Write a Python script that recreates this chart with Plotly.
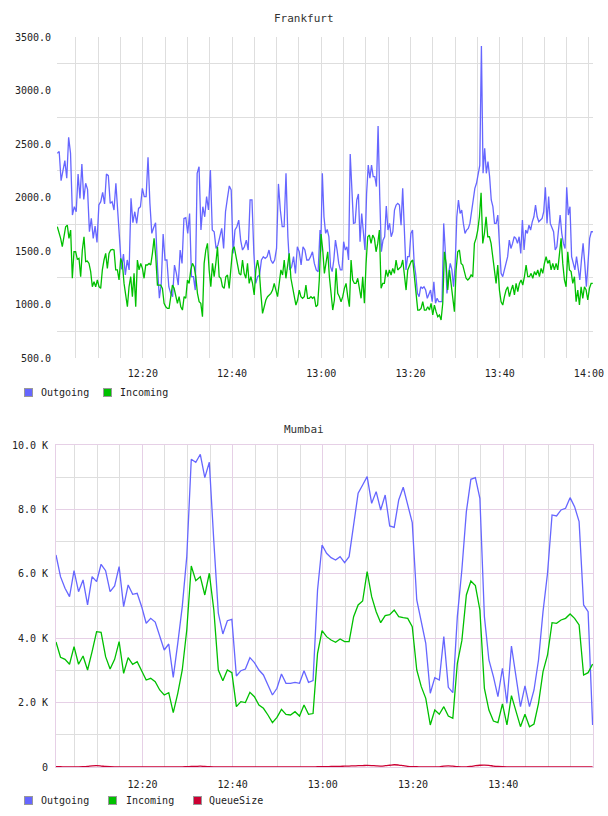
import pandas as pd
import plotly.graph_objects as go

DAY = "2024-01-01 "

# ---------------- Frankfurt ----------------
fr_out_a = [2413, 2430, 2157, 2241, 2344, 2180, 2563, 2413, 1836, 1914, 1867, 2220, 1992, 2313, 1982, 2133, 2077,
            1680, 1805, 1618, 1733, 1580, 1930, 1961, 2049, 1940, 2220, 2204, 1945, 1961, 1883, 2133, 1883, 1571,
            1329, 1472, 1276, 1416, 1323, 1992, 1764, 1867, 1758, 1898, 1914, 2086, 2008, 2008, 2376, 1945, 1665,
            1720, 1764, 1353, 1058, 1197, 1658, 1416, 1416, 1166, 1104, 1073, 1369, 1291, 1182, 1509, 1384, 1805,
            1811, 1665, 1851, 1260, 1260, 1135, 2226, 2288, 1696, 1914, 1820, 2008, 1883, 2257, 1696, 1680, 1524,
            1556, 1633, 1711, 1524, 1867, 1992, 2108, 2071, 1478, 1696, 1727, 1789, 1602, 1509, 1540, 1602, 1509,
            1977, 1977, 1478, 1197, 1260, 1276, 1416, 1447, 1431, 1447, 1509, 1416, 1384, 1416, 1524, 2127, 1883,
            1727, 1727, 2226, 1633, 1323, 1353, 1447, 1291, 1540, 1493, 1369, 1540, 1509, 1416, 1416, 1447, 1493,
            1384, 1323, 1307, 1696]
fr_out_b = [1493, 2226, 1820, 1665, 1702, 1633, 1353, 1307, 1416, 1602, 1509, 1384, 1323, 1323, 1587, 1509, 1540,
            1416, 2407, 2102, 1758, 1764, 1977, 2033, 1587, 1851, 1696, 1509, 2039, 2304, 2180, 2304, 2195, 2195,
            2102, 2668, 2008, 1493, 1602, 1633, 1920, 1696, 1758, 1633, 1680, 1883, 1930, 1945, 1930, 1742, 2086,
            1696, 1323, 1447, 1447, 1665, 1696, 1384, 1276, 1104, 1073, 1166, 1151, 1166, 1135, 1058, 1104, 1135,
            1026, 1213, 1011, 1058, 1026, 1026, 1026, 1758, 1493, 1104, 1291, 1384, 1323, 1166, 1369, 1820, 1977,
            1851, 1883, 1758, 1665, 1696, 1711, 1758, 1867, 1977, 2086, 2133, 2226, 2300, 3416, 2226, 2459, 2226,
            2335, 2195, 1977, 1914, 1758, 1758, 1836, 1602, 1291, 1260, 1323, 1384, 1447, 1602, 1524, 1571, 1633,
            1618, 1571, 1633, 1478, 1789, 1509, 1696, 1665, 1742, 1696, 1773, 1820, 1930, 1820, 1773, 1789, 1805,
            1867, 2096, 1758, 2008, 1758, 1711, 1680, 1509, 1540, 1696, 1836, 1665, 1571, 1524, 2096, 1836, 1914,
            1447, 1384, 1323, 1447, 1323, 1229, 1416, 1571, 1384, 1166, 1384, 1618, 1680, 1680]
fr_in_a = [1727, 1680, 1618, 1540, 1633, 1727, 1742, 1618, 1696, 1245, 1493, 1493, 1422, 1431, 1260, 1509, 1633,
           1400, 1406, 1384, 1307, 1166, 1213, 1166, 1229, 1166, 1151, 1323, 1416, 1478, 1338, 1478, 1509, 1515,
           1509, 1323, 1323, 1229, 1431, 1384, 1197, 1073, 979, 1166, 1260, 1073, 1291, 979, 1416, 1323, 1384,
           1338, 1245, 1369, 1369, 1384, 1369, 1478, 1618, 1447, 1182, 1182, 1182, 1151, 1011, 979, 964, 964,
           1073, 1182, 1151, 1073, 1011, 1073, 979, 948, 1073, 1058, 1229, 1197, 1323, 1384, 1353, 1260, 1104,
           1026, 1011, 886, 1384, 1509, 1571, 1323, 1166, 1384, 1260, 1384, 1540, 1260, 1245, 1166, 1151, 1260,
           1276, 1151, 1353, 1509, 1540, 1447, 1384, 1291, 1276, 1416, 1291, 1245, 1384, 1197, 1260, 1197, 1089,
           1323, 1416, 1323, 1104, 917, 979, 1042, 1073, 1089, 1104, 1135, 1197, 1135, 1073, 1197, 1323, 1276,
           1416, 1245, 1384, 1478, 1245, 1166, 1073, 995, 1042, 1135, 1073, 1058, 1073, 1182, 1058, 1058, 1073,
           1058, 1073, 979, 995, 1229]
fr_in_b = [1659, 1509, 1291, 1384, 1493, 1260, 1104, 948, 1042, 1338, 1104, 1073, 1026, 1073, 1151, 1197, 1073,
           979, 1416, 1229, 1197, 1197, 1245, 1166, 1058, 1260, 1011, 1384, 1633, 1649, 1571, 1649, 1618, 1493,
           1571, 1696, 1151, 1197, 1197, 1323, 1260, 1323, 1276, 1338, 1291, 1416, 1323, 1338, 1353, 1416, 1260,
           1135, 1323, 1369, 1400, 1416, 1260, 1104, 948, 948, 964, 1026, 948, 948, 979, 948, 1011, 902, 995, 933,
           886, 902, 855, 1011, 1493, 1384, 1135, 1323, 1197, 1073, 933, 1323, 1493, 1509, 1384, 1369, 1307, 1245,
           1229, 1245, 1276, 1260, 1571, 1618, 1696, 1820, 2045, 1571, 1665, 1820, 1633, 1633, 1571, 1447, 1323,
           1197, 1369, 1135, 1026, 995, 1073, 1135, 1166, 1073, 1135, 1182, 1089, 1197, 1120, 1197, 1229, 1182,
           1260, 1369, 1260, 1260, 1291, 1245, 1307, 1276, 1323, 1260, 1338, 1291, 1384, 1447, 1384, 1416, 1323,
           1384, 1323, 1384, 1323, 1447, 1618, 1384, 1229, 1166, 1493, 1323, 1307, 1197, 1260, 1026, 1135, 995,
           1166, 1058, 1166, 1135, 1042, 1151, 1197, 1197]

fr_yticks = [500, 1000, 1500, 2000, 2500, 3000, 3500]
fr_ygrid = [750, 1250, 1750, 2250, 2750, 3250]
fr_xticks = ["12:20", "12:40", "13:00", "13:20", "13:40", "14:00"]

# ---------------- Mumbai (one value per minute) ----------------
mu_out = [6585, 5911, 5550, 5290, 6097, 5445, 5808, 5032, 5911, 5756, 6296, 6097, 5445, 5622, 6221, 4979, 5654,
          5364, 5394, 4979, 4463, 4618, 4500, 4048, 3634, 3820, 2785, 3841, 4979, 6532, 9557, 9464, 9712, 8986,
          9464, 6998, 4774, 4131, 4544, 4586, 2826, 2991, 3043, 3395, 3240, 3012, 2858, 2547, 2236, 2444, 2889,
          2600, 2600, 2630, 2600, 2991, 2630, 2682, 5498, 6895, 6637, 6501, 6429, 6532, 6346, 6532, 7569, 8501,
          8759, 9017, 8190, 8552, 7982, 8448, 7485, 7444, 8293, 8687, 8138, 7589, 5187, 4463, 3842, 2289, 2775,
          2702, 4048, 2475, 2308, 4669, 6119, 7930, 8935, 8986, 8345, 4669, 3323, 2805, 2184, 3066, 1978, 3758,
          2805, 1873, 2516, 1873, 2392, 3323, 4824, 6017, 7827, 7796, 7982, 8034, 8365, 8086, 7620, 5032, 4824,
          1305]
mu_in = [3882, 3407, 3345, 3190, 3737, 3190, 3448, 3013, 3582, 4203, 4182, 3427, 3044, 3345, 3893, 2910, 3397,
         3190, 3272, 2991, 2702, 2754, 2650, 2392, 2236, 2308, 1687, 2288, 3013, 4255, 6243, 5787, 5911, 5342,
         6017, 4876, 3013, 2682, 3013, 2930, 1873, 2029, 2000, 2319, 2184, 1926, 1822, 1615, 1377, 1543, 1791,
         1636, 1615, 1718, 1584, 1926, 1636, 1660, 3531, 4234, 4048, 3945, 3872, 3976, 3893, 3893, 4669, 5032,
         5156, 6066, 5290, 4824, 4482, 4700, 4731, 4876, 4669, 4638, 4617, 4358, 3013, 2495, 2133, 1305, 1770,
         1636, 1873, 1584, 1512, 3220, 3924, 5342, 5777, 5632, 4876, 2444, 1770, 1429, 1377, 1957, 1305, 2215,
         1718, 1252, 1636, 1252, 1335, 1978, 2960, 3479, 4482, 4463, 4566, 4617, 4752, 4617, 4410, 2858, 2930,
         3199]
mu_queue = [10, 8, 5, 5, 5, 6, 10, 20, 35, 40, 30, 15, 8, 5, 5, 5, 5, 5, 5, 5, 5, 5, 5, 5, 5, 5, 5, 5, 5, 10,
            15, 20, 25, 15, 8, 5, 5, 5, 5, 5, 5, 5, 5, 5, 5, 5, 5, 5, 5, 5, 5, 5, 5, 5, 5, 5, 5, 5, 8, 10,
            12, 15, 18, 20, 25, 30, 35, 40, 45, 50, 45, 35, 30, 40, 55, 70, 60, 40, 20, 10, 8, 5, 5, 5, 5, 5,
            25, 35, 25, 10, 5, 5, 20, 40, 55, 60, 50, 30, 15, 8, 5, 5, 5, 5, 5, 5, 5, 5, 5, 5, 5, 5, 5, 5, 5,
            5, 5, 5, 5, 5]

mu_yticks = [0, 2000, 4000, 6000, 8000, 10000]
mu_ygrid = [1000, 3000, 5000, 7000, 9000]
mu_xticks = ["12:20", "12:40", "13:00", "13:20", "13:40"]

series_names = ["Outgoing", "Incoming", "QueueSize"]

C_OUT = "#6666ff"
C_IN = "#00c000"
C_Q = "#cc0033"
GRID = "#dedede"
PINK = "#e6d0e6"
FONT = dict(family="DejaVu Sans Mono", size=10, color="#222222")
TFONT = dict(family="DejaVu Sans Mono", size=11, color="#333333")

W, H = 608, 816


def block(start, end, n):
    return pd.date_range(DAY + start, DAY + end, periods=n)


fr_out_t = block("12:00:49", "12:59:43", len(fr_out_a)).append(block("12:59:52", "14:00:54", len(fr_out_b)))
fr_in_t = block("12:00:49", "12:59:33", len(fr_in_a)).append(block("12:59:57", "14:00:52", len(fr_in_b)))
mu_t = pd.date_range(DAY + "12:00:50", periods=len(mu_out), freq="1min")

fig = go.Figure()
LW = 1.3
fig.add_trace(go.Scatter(x=fr_out_t, y=fr_out_a + fr_out_b, mode="lines", name=series_names[0],
                         line=dict(color=C_OUT, width=LW), xaxis="x", yaxis="y"))
fig.add_trace(go.Scatter(x=fr_in_t, y=fr_in_a + fr_in_b, mode="lines", name=series_names[1],
                         line=dict(color=C_IN, width=LW), xaxis="x", yaxis="y"))
fig.add_trace(go.Scatter(x=mu_t, y=mu_out, mode="lines", name=series_names[0],
                         line=dict(color=C_OUT, width=LW), xaxis="x2", yaxis="y2"))
fig.add_trace(go.Scatter(x=mu_t, y=mu_in, mode="lines", name=series_names[1],
                         line=dict(color=C_IN, width=LW), xaxis="x2", yaxis="y2"))
fig.add_trace(go.Scatter(x=mu_t, y=mu_queue, mode="lines", name=series_names[2],
                         line=dict(color=C_Q, width=LW, shape="spline"), xaxis="x2", yaxis="y2"))

# ---- legends drawn as swatch + label annotations ----
annotations = [
    dict(text="Frankfurt", x=0.5, y=1 - 18 / H, xref="paper", yref="paper", showarrow=False,
         xanchor="center", yanchor="middle", font=TFONT),
    dict(text="Mumbai", x=0.5, y=1 - 429 / H, xref="paper", yref="paper", showarrow=False,
         xanchor="center", yanchor="middle", font=TFONT),
]
legend_rows = [
    (392, [(series_names[0], C_OUT, 24, 39), (series_names[1], C_IN, 103, 118)]),
    (800, [(series_names[0], C_OUT, 24, 39), (series_names[1], C_IN, 108, 124), (series_names[2], C_Q, 193, 207)]),
]
for ypx, items in legend_rows:
    for name, col, bx, tx in items:
        annotations.append(dict(text=" ", x=bx / W, y=1 - ypx / H, xref="paper", yref="paper", showarrow=False,
                                xanchor="left", yanchor="middle", width=7, height=7, bgcolor=col,
                                bordercolor="#999999", borderwidth=1, borderpad=0, font=dict(size=4)))
        annotations.append(dict(text=name, x=tx / W, y=1 - ypx / H, xref="paper", yref="paper", showarrow=False,
                                xanchor="left", yanchor="middle", font=FONT))

fig.update_layout(
    template="none",
    width=W, height=H, margin=dict(l=0, r=0, t=0, b=0, pad=0), autosize=False,
    paper_bgcolor="white", plot_bgcolor="white", font=FONT, showlegend=False,
    xaxis=dict(domain=[57 / W, 593 / W], anchor="y", type="date",
               range=[DAY + "12:00:45", DAY + "14:00:55"],
               tickmode="array", tickvals=[DAY + t for t in fr_xticks], ticktext=fr_xticks,
               showgrid=True, gridcolor=GRID, gridwidth=1, zeroline=False, showline=False, ticks="",
               minor=dict(dtick=300000, tick0=DAY + "12:00", showgrid=True, gridcolor=GRID, gridwidth=1),
               tickfont=FONT, ticklabelstandoff=8, automargin=False),
    yaxis=dict(domain=[1 - 358 / H, 1 - 37 / H], anchor="x", range=[500, 3500],
               tickmode="array", tickvals=fr_yticks, ticktext=[f"{v:.1f}" for v in fr_yticks],
               showgrid=False, zeroline=False, showline=False, ticks="",
               minor=dict(tickmode="array", tickvals=fr_ygrid, showgrid=True, gridcolor=GRID, gridwidth=1),
               tickfont=FONT, ticklabelstandoff=5, automargin=False),
    xaxis2=dict(domain=[56 / W, 593 / W], anchor="y2", type="date",
                range=[DAY + "12:00:50", DAY + "13:59:55"],
                tickmode="array", tickvals=[DAY + t for t in mu_xticks], ticktext=mu_xticks,
                showgrid=True, gridcolor=PINK, gridwidth=1, zeroline=False,
                showline=True, mirror=True, linecolor=PINK, linewidth=1, ticks="",
                minor=dict(dtick=300000, tick0=DAY + "12:00", showgrid=True, gridcolor=GRID, gridwidth=1),
                tickfont=FONT, ticklabelstandoff=8, automargin=False),
    yaxis2=dict(domain=[1 - 767 / H, 1 - 445 / H], anchor="x2", range=[0, 10000],
                tickmode="array", tickvals=mu_yticks,
                ticktext=["0" if v == 0 else f"{v / 1000:.1f} K" for v in mu_yticks],
                showgrid=True, gridcolor=PINK, gridwidth=1, zeroline=False,
                showline=True, mirror=True, linecolor=PINK, linewidth=1, ticks="",
                minor=dict(tickmode="array", tickvals=mu_ygrid, showgrid=True, gridcolor=GRID, gridwidth=1),
                tickfont=FONT, ticklabelstandoff=5, automargin=False),
    annotations=annotations,
)

fig.write_html("out.html")
